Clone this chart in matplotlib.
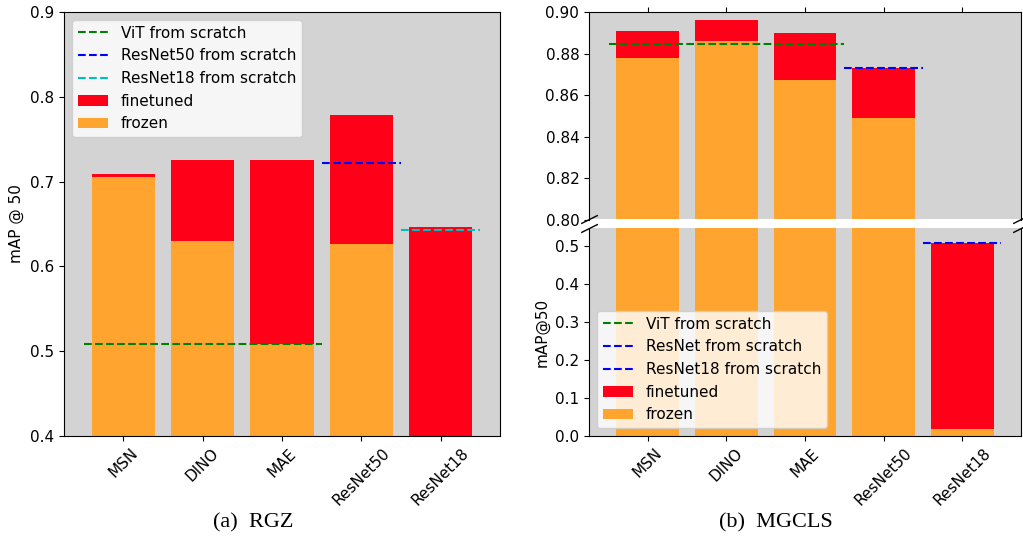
import matplotlib
matplotlib.use('Agg')
import matplotlib.pyplot as plt

# --- data ---
models = ['MSN', 'DINO', 'MAE', 'ResNet50', 'ResNet18']

rgz_finetuned = [0.709, 0.725, 0.726, 0.778, 0.646]
rgz_frozen    = [0.705, 0.630, 0.509, 0.627, 0.100]
rgz_vit_scratch      = 0.509
rgz_resnet50_scratch = 0.722
rgz_resnet18_scratch = 0.643

mgcls_finetuned = [0.891, 0.896, 0.890, 0.873, 0.508]
mgcls_frozen    = [0.878, 0.886, 0.867, 0.849, 0.019]
mgcls_vit_scratch      = 0.8846
mgcls_resnet_scratch   = 0.873
mgcls_resnet18_scratch = 0.508

RED = '#ff0019'
ORANGE = '#ffa52f'
BG = 'lightgray'

plt.rcParams['font.size'] = 11

fig = plt.figure(figsize=(10.23, 5.41), dpi=100)
W, H = 1023, 541

def ax_at(l, t, r, b):
    return fig.add_axes([l / W, 1 - b / H, (r - l) / W, (b - t) / H])

x = list(range(len(models)))

# --- (a) RGZ ---
ax = ax_at(64, 12, 500, 436)
ax.set_facecolor(BG)
ax.hlines(rgz_vit_scratch, -0.5, 2.5, colors='g', linestyles='--', label='ViT from scratch')
ax.hlines(rgz_resnet50_scratch, 2.5, 3.5, colors='b', linestyles='--', label='ResNet50 from scratch')
ax.hlines(rgz_resnet18_scratch, 3.5, 4.5, colors='c', linestyles='--', label='ResNet18 from scratch')
ax.bar(x, rgz_finetuned, color=RED, label='finetuned', zorder=0)
ax.bar(x, rgz_frozen, color=ORANGE, label='frozen', zorder=0)
ax.set_ylim(0.4, 0.9)
ax.set_yticks([0.4, 0.5, 0.6, 0.7, 0.8, 0.9])
ax.set_xticks(x)
ax.set_xticklabels(models, rotation=45)
ax.set_ylabel('mAP @ 50')
ax.legend(loc='upper left')

# --- (b) MGCLS, broken axis ---
ax1 = ax_at(589, 12, 1021, 219.5)
ax2 = ax_at(589, 228.5, 1021, 436)
for a in (ax1, ax2):
    a.set_facecolor(BG)
    a.hlines(mgcls_vit_scratch, -0.5, 2.5, colors='g', linestyles='--', label='ViT from scratch')
    a.hlines(mgcls_resnet_scratch, 2.5, 3.5, colors='b', linestyles='--', label='ResNet from scratch')
    a.hlines(mgcls_resnet18_scratch, 3.5, 4.5, colors='b', linestyles='--', label='ResNet18 from scratch')
    a.bar(x, mgcls_finetuned, color=RED, label='finetuned', zorder=0)
    a.bar(x, mgcls_frozen, color=ORANGE, label='frozen', zorder=0)
    a.set_xticks(x)

ax1.set_ylim(0.8, 0.9)
ax1.set_yticks([0.80, 0.82, 0.84, 0.86, 0.88, 0.90])
ax1.set_yticklabels(['0.80', '0.82', '0.84', '0.86', '0.88', '0.90'])
ax2.set_ylim(0.0, 0.545)
ax2.set_yticks([0.0, 0.1, 0.2, 0.3, 0.4, 0.5])

ax1.spines['bottom'].set_visible(False)
ax2.spines['top'].set_visible(False)
ax1.xaxis.tick_top()
ax1.tick_params(labeltop=False)
ax2.xaxis.tick_bottom()
ax2.set_xticklabels(models, rotation=45)
ax2.set_ylabel('mAP@50')
ax2.legend(loc='lower left')

# break marks
d = .5
kw = dict(marker=[(-1, -d), (1, d)], markersize=12, linestyle='none',
          color='k', mec='k', mew=1, clip_on=False)
ax1.plot([0, 1], [0, 0], transform=ax1.transAxes, **kw)
ax2.plot([0, 1], [1, 1], transform=ax2.transAxes, **kw)

# captions
fig.text(253 / W, 1 - 523 / H, '(a)  RGZ', ha='center', va='center',
         family='Liberation Serif', fontsize=16)
fig.text(776 / W, 1 - 523 / H, '(b)  MGCLS', ha='center', va='center',
         family='Liberation Serif', fontsize=16)

fig.savefig('out.png', dpi=100)
